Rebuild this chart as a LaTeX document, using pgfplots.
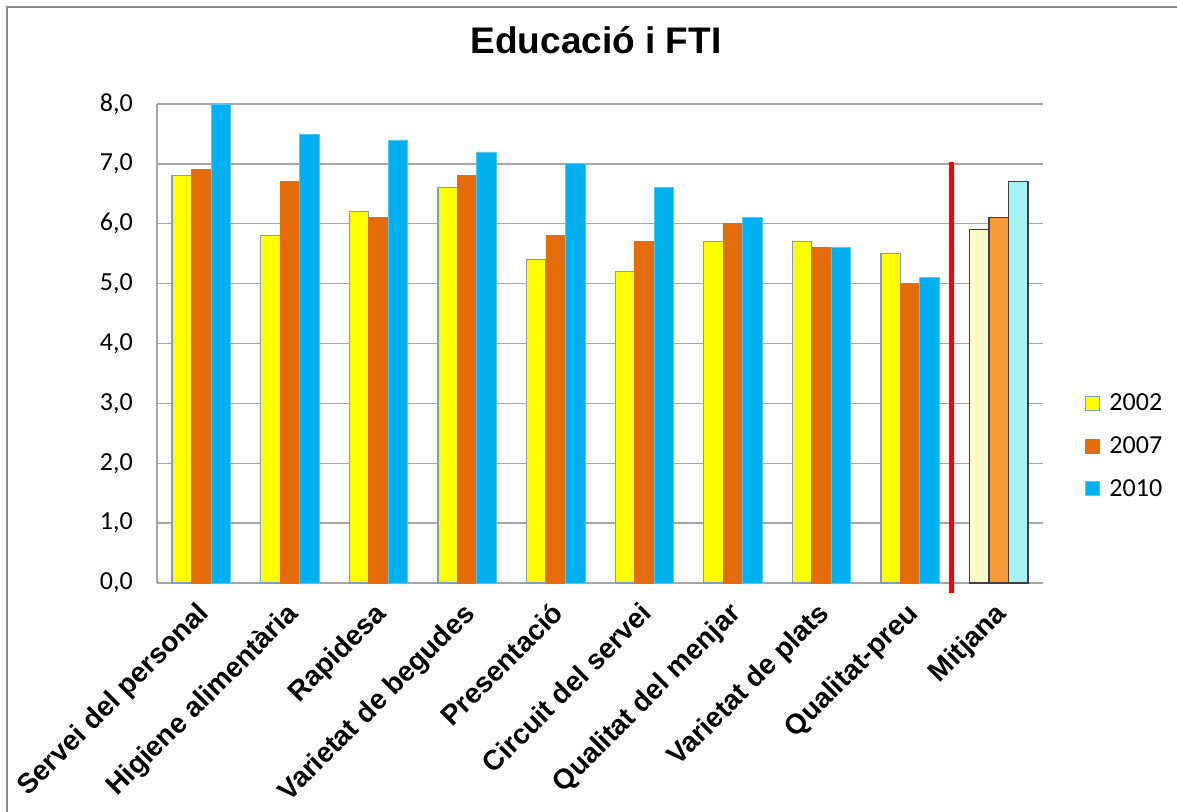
\documentclass[border=0pt]{standalone}
\usepackage{fontspec}
\setmainfont{Liberation Sans}
\newfontfamily\carl{Carlito}
\usepackage{pgfplots}
\pgfplotsset{compat=1.18}
\definecolor{cY}{HTML}{FFFF00}
\definecolor{cYb}{HTML}{7F9CC8}
\definecolor{cO}{HTML}{E46C0A}
\definecolor{cB}{HTML}{00B0F0}
\definecolor{cBb}{HTML}{55C8F2}
\definecolor{mY}{HTML}{FFFAC8}
\definecolor{mO}{HTML}{F99A38}
\definecolor{mB}{HTML}{A6F1F3}
\definecolor{gridc}{HTML}{A6A6A6}
\definecolor{framec}{HTML}{8C8C8C}
\pgfplotsset{sqlegend/.style={legend image code/.code={\draw[##1] (0pt,-5.25pt) rectangle (10.5pt,5.25pt);}}}
\begin{document}
\begin{tikzpicture}
\useasboundingbox (-117.75pt,-171.75pt) rectangle ++(882.75pt,609pt);
\draw[framec, line width=1.6pt] (-112.5pt,-200pt) rectangle (800pt,432pt);
\begin{axis}[
  at={(0pt,0pt)}, anchor=south west,
  scale only axis, width=664.5pt, height=359.25pt,
  xmin=-0.5, xmax=9.5, ymin=0, ymax=8,
  ytick={0,1,...,8},
  xtick={0,...,9},
  xticklabels={Servei del personal,Higiene alimentària,Rapidesa,Varietat de begudes,Presentació,Circuit del servei,Qualitat del menjar,Varietat de plats,Qualitat-preu,Mitjana},
  axis x line*=bottom, axis y line*=left,
  axis line style={draw=gridc, line width=1.1pt, -},
  major tick length=0pt,
  ymajorgrids, grid style={draw=gridc, line width=1.1pt},
  /pgf/number format/.cd, use comma, fixed, fixed zerofill, precision=1, assume math mode=true, /pgfplots/.cd,
  yticklabel style={font=\carl\fontsize{19.5}{20}\selectfont, inner sep=0pt, xshift=-18pt},
  xticklabel style={font=\bfseries\fontsize{21}{23}\selectfont, inner sep=0pt, xshift=-4pt, yshift=-13pt, rotate=45, anchor=north east},
  title={Educació i FTI},
  title style={font=\bfseries\fontsize{27.75}{30}\selectfont, at={(0.4955,1.0877)}, anchor=base, inner sep=0pt},
  legend style={draw=none, fill=none, at={(1.047,0.286)}, anchor=west, font=\carl\fontsize{19.5}{20}\selectfont, row sep=14pt, inner sep=0pt,
    /tikz/every odd column/.append style={column sep=5pt}},
  legend cell align=left,
  clip=false,
]
\addplot[ybar, sqlegend, bar width=14.6pt, bar shift=-14.6pt, fill=cY, draw=cYb, line width=0.9pt]
  coordinates {(0,6.8) (1,5.8) (2,6.2) (3,6.6) (4,5.4) (5,5.2) (6,5.7) (7,5.7) (8,5.5)};
\addplot[ybar, sqlegend, bar width=14.6pt, bar shift=0pt, fill=cO, draw=cO, line width=0.6pt]
  coordinates {(0,6.9) (1,6.7) (2,6.1) (3,6.8) (4,5.8) (5,5.7) (6,6.0) (7,5.6) (8,5.0)};
\addplot[ybar, sqlegend, bar width=14.6pt, bar shift=14.6pt, fill=cB, draw=cBb, line width=0.6pt]
  coordinates {(0,8.0) (1,7.5) (2,7.4) (3,7.2) (4,7.0) (5,6.6) (6,6.1) (7,5.6) (8,5.1)};
\legend{2002,2007,2010}
\addplot[ybar, forget plot, bar width=14.6pt, bar shift=-14.6pt, fill=mY, draw=black!75, line width=0.9pt]
  coordinates {(9,5.9)};
\addplot[ybar, forget plot, bar width=14.6pt, bar shift=0pt, fill=mO, draw=black!75, line width=0.9pt]
  coordinates {(9,6.1)};
\addplot[ybar, forget plot, bar width=14.6pt, bar shift=14.6pt, fill=mB, draw=black!75, line width=0.9pt]
  coordinates {(9,6.7)};
\addplot[forget plot, draw=red, line width=4pt, no marks] coordinates {(8.47,7.03) (8.47,-0.17)};
\end{axis}
\end{tikzpicture}
\end{document}
